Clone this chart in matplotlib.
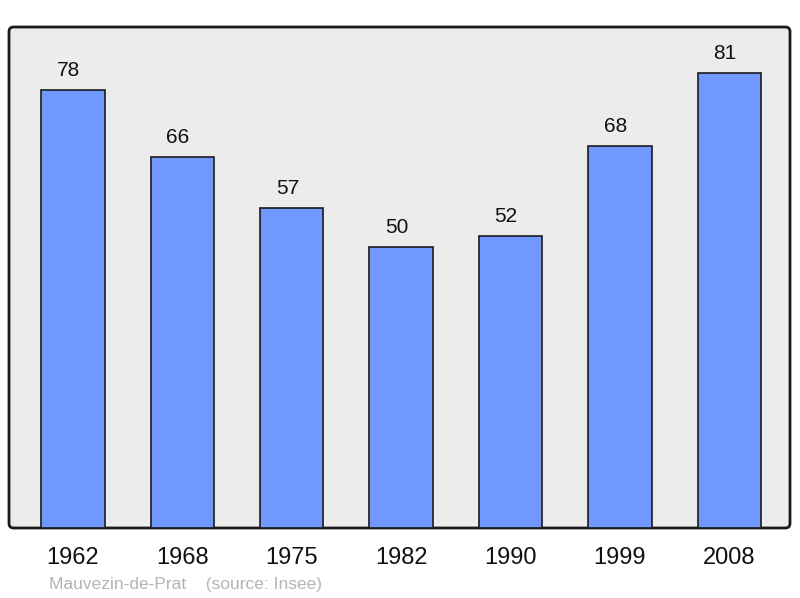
import matplotlib
matplotlib.use("Agg")
import matplotlib.pyplot as plt
from matplotlib.patches import FancyBboxPatch

years = ["1962", "1968", "1975", "1982", "1990", "1999", "2008"]
population = [78, 66, 57, 50, 52, 68, 81]

plt.rcParams['font.family'] = ['Liberation Sans', 'DejaVu Sans']

fig = plt.figure(figsize=(8, 5.98), dpi=100)
ax = fig.add_axes([9/800, 70/598, 781/800, 501/598])
ax.set_facecolor('none')
for s in ax.spines.values():
    s.set_visible(False)

frame = FancyBboxPatch((0, 0), 1, 1, boxstyle="round,pad=0,rounding_size=0.006",
                       transform=ax.transAxes, facecolor='#ececec', edgecolor='#1a1a1a',
                       linewidth=2, zorder=0, clip_on=False, mutation_aspect=781/501)
ax.add_patch(frame)

x = list(range(len(years)))
ax.bar(x, population, width=0.58, color='#7098ff', edgecolor='#1a1a1a', linewidth=1.2, zorder=2)
for xi, v in zip(x, population):
    ax.text(xi - 0.04, v + 1.8, str(v), ha='center', va='bottom', fontsize=15, color='#111111', zorder=3)

ax.set_xlim(-0.585, 6.555)
ax.set_ylim(0, 89.2)
ax.set_yticks([])
ax.set_xticks(x)
ax.set_xticklabels(years, fontsize=17, color='#111111')
ax.tick_params(axis='x', length=0, pad=14)

fig.text(49/800, 1 - 585/598, "Mauvezin-de-Prat    (source: Insee)", fontsize=12.5,
         color='#b4b4b4', ha='left', va='center')

fig.savefig("out.png", dpi=100)
